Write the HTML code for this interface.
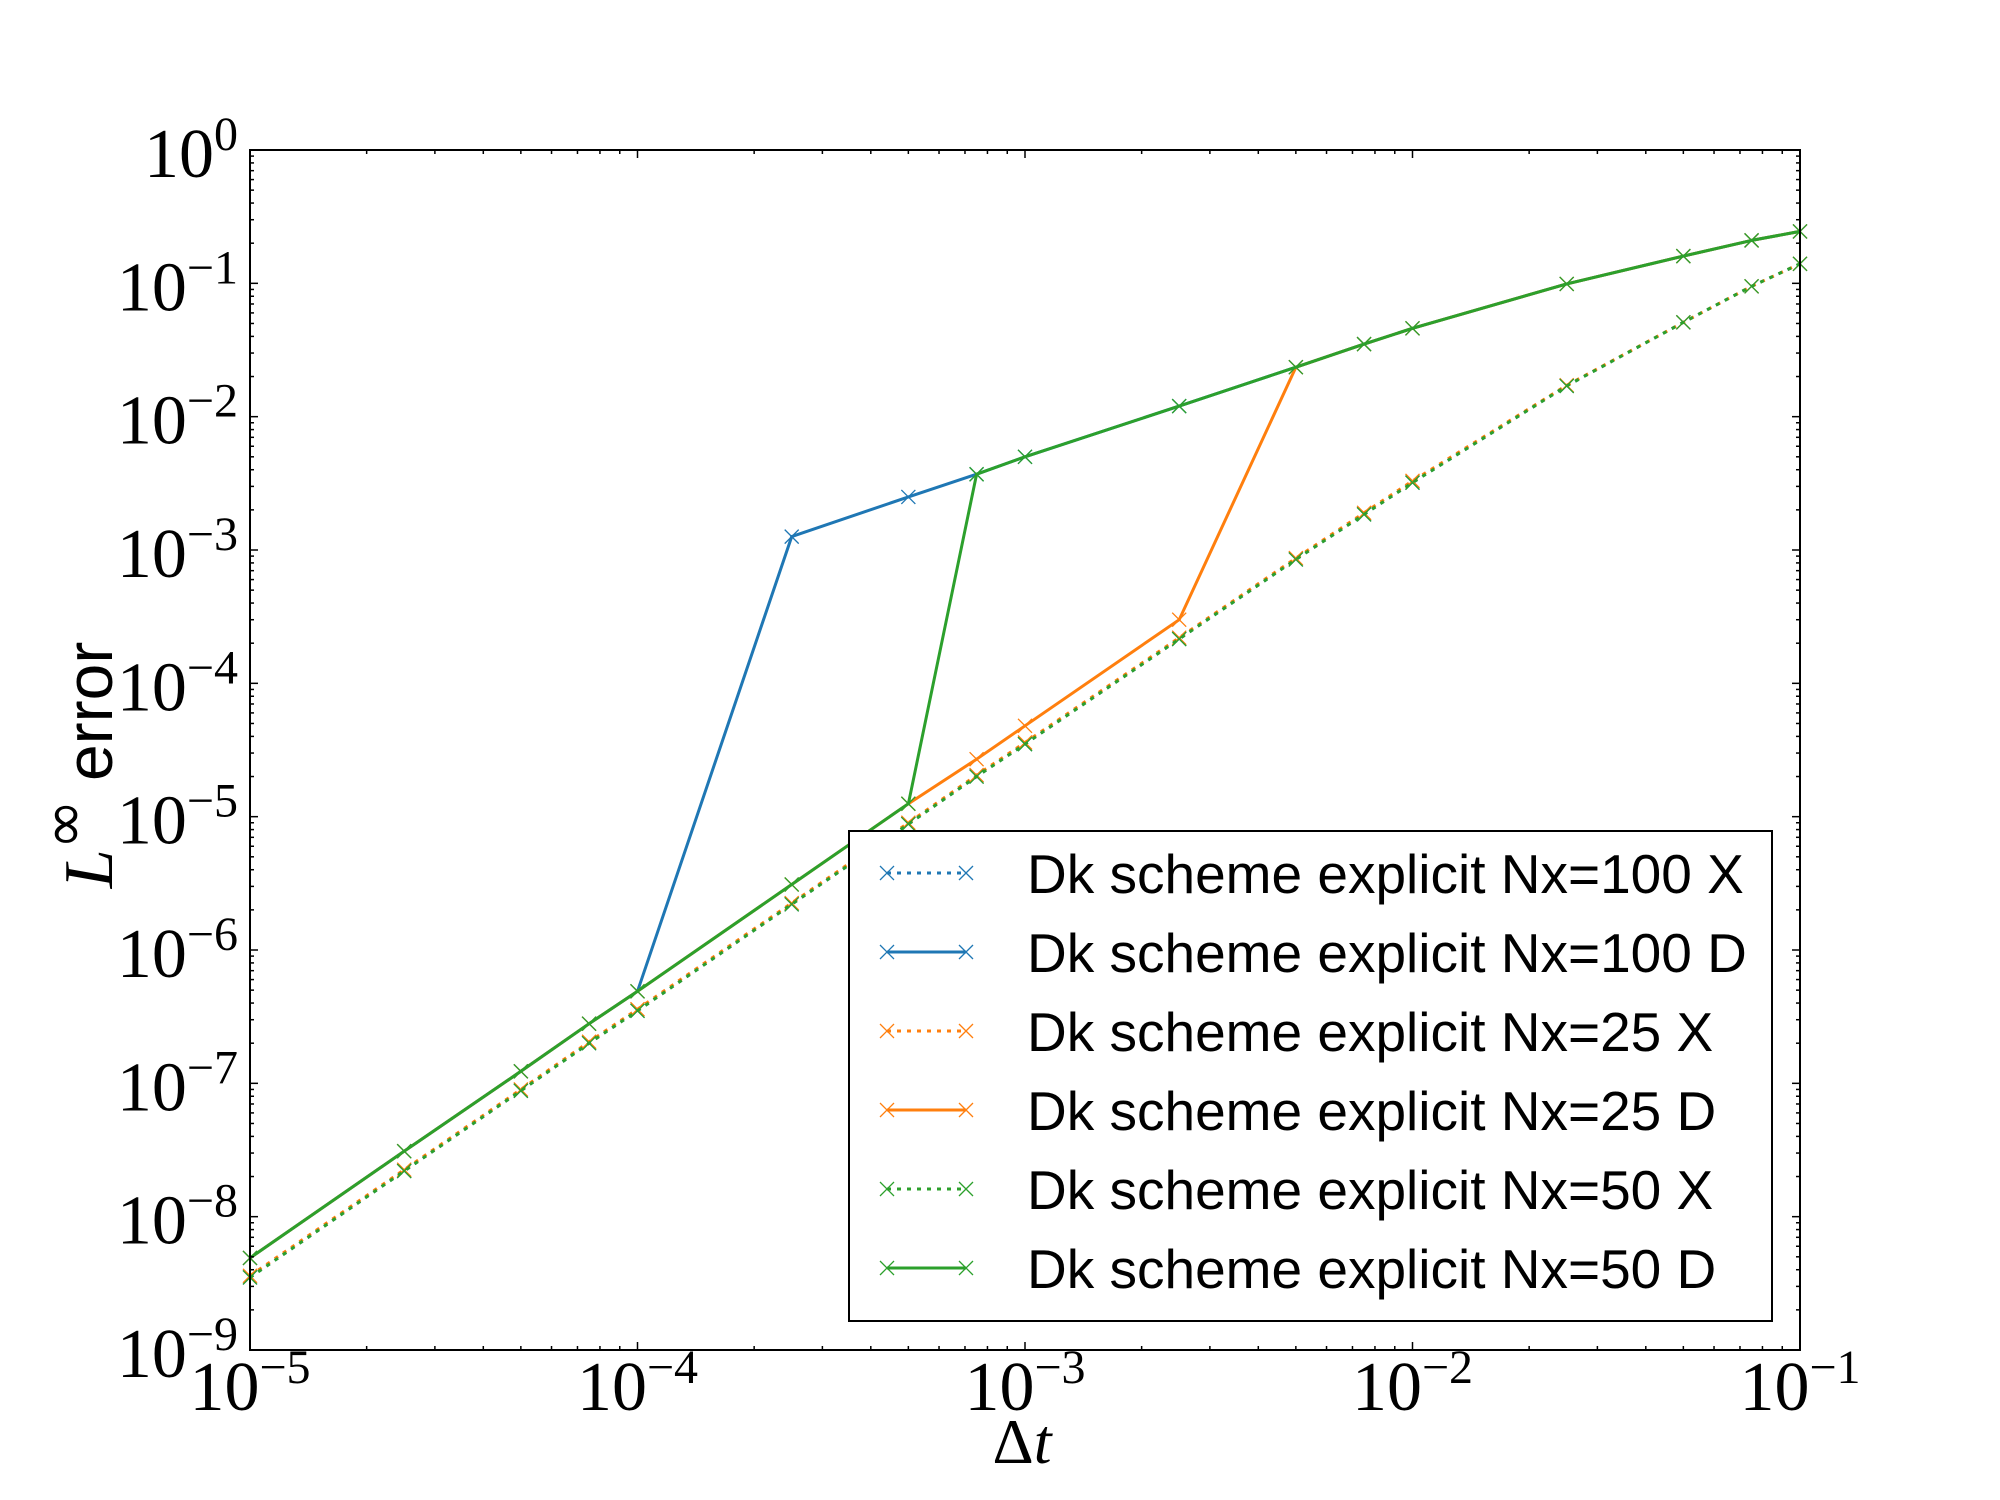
<!DOCTYPE html>
<html><head><meta charset="utf-8"><style>
html,body{margin:0;padding:0;background:#fff;}
svg{display:block;}
</style></head><body>
<svg id="chart" width="2000" height="1500" viewBox="0 0 2000 1500" xmlns="http://www.w3.org/2000/svg">
<rect width="2000" height="1500" fill="#fff"/>
<g id="series"></g>
<g id="axes"></g>
<g id="legend"></g>
</svg>
<script>
const dtValues = [1e-5,2.5e-5,5e-5,7.5e-5,1e-4,2.5e-4,5e-4,7.5e-4,1e-3,2.5e-3,5e-3,7.5e-3,1e-2,2.5e-2,5e-2,7.5e-2,1e-1];
const x100 = [3.5e-9,2.2e-8,8.8e-8,2.0e-7,3.5e-7,2.2e-6,8.8e-6,2.0e-5,3.5e-5,2.15e-4,8.5e-4,1.85e-3,3.2e-3,1.7e-2,5.1e-2,9.5e-2,1.4e-1];
const d100 = [4.9e-9,3.1e-8,1.23e-7,2.8e-7,4.9e-7,1.26e-3,2.5e-3,3.7e-3,5.0e-3,1.2e-2,2.35e-2,3.5e-2,4.6e-2,9.9e-2,1.6e-1,2.1e-1,2.45e-1];
const x25 = [3.6e-9,2.25e-8,9.0e-8,2.05e-7,3.6e-7,2.25e-6,9.0e-6,2.05e-5,3.6e-5,2.2e-4,8.7e-4,1.9e-3,3.3e-3,1.72e-2,5.1e-2,9.5e-2,1.4e-1];
const d25 = [4.9e-9,3.1e-8,1.23e-7,2.8e-7,4.9e-7,3.1e-6,1.25e-5,2.7e-5,4.8e-5,3.0e-4,2.35e-2,3.5e-2,4.6e-2,9.9e-2,1.6e-1,2.1e-1,2.45e-1];
const x50 = [3.5e-9,2.2e-8,8.8e-8,2.0e-7,3.5e-7,2.2e-6,8.8e-6,2.0e-5,3.5e-5,2.15e-4,8.5e-4,1.85e-3,3.2e-3,1.7e-2,5.1e-2,9.5e-2,1.4e-1];
const d50 = [4.9e-9,3.1e-8,1.23e-7,2.8e-7,4.9e-7,3.1e-6,1.25e-5,3.7e-3,5.0e-3,1.2e-2,2.35e-2,3.5e-2,4.6e-2,9.9e-2,1.6e-1,2.1e-1,2.45e-1];
const seriesLabels = ["Dk scheme explicit Nx=100 X","Dk scheme explicit Nx=100 D","Dk scheme explicit Nx=25 X","Dk scheme explicit Nx=25 D","Dk scheme explicit Nx=50 X","Dk scheme explicit Nx=50 D"];
const xTickExps = [-5,-4,-3,-2,-1];
const yTickExps = [-9,-8,-7,-6,-5,-4,-3,-2,-1,0];

const NS="http://www.w3.org/2000/svg";
const L=250,R=1800,T=150,B=1350;
const xMin=-5,xMax=-1,yMin=-9,yMax=0;
function xs(v){return L+(Math.log10(v)-xMin)/(xMax-xMin)*(R-L);}
function ys(v){return B-(Math.log10(v)-yMin)/(yMax-yMin)*(B-T);}
function mk(tag,attrs,parent){const e=document.createElementNS(NS,tag);for(const k in attrs)e.setAttribute(k,attrs[k]);parent.appendChild(e);return e;}

const blue="#1f77b4",orange="#ff7f0e",green="#2ca02c";
const seriesDefs=[[x100,blue,true],[d100,blue,false],[x25,orange,true],[d25,orange,false],[x50,green,true],[d50,green,false]];
const sg=document.getElementById('series');
function marker(g,x,y,c,name){
  const m=mk('path',{d:`M${x-7},${y-7}L${x+7},${y+7}M${x-7},${y+7}L${x+7},${y-7}`,stroke:c,'stroke-width':1.3,fill:'none'},g);
  
  
}
seriesDefs.forEach((s,i)=>{
  const g=mk('g',{},sg);
  
  
  const pts=s[0].map((v,j)=>xs(dtValues[j]).toFixed(1)+','+ys(v).toFixed(1)).join(' ');
  const pl=mk('polyline',{points:pts,fill:'none',stroke:s[1],'stroke-width':3,'stroke-dasharray':s[2]?'4 6':'none','stroke-linejoin':'round'},g);
  
  
  s[0].forEach((v,j)=>marker(g,xs(dtValues[j]),ys(v),s[1],'data-point'));
});

// axes
const ag=document.getElementById('axes');
const frame=mk('rect',{x:L,y:T,width:R-L,height:B-T,fill:'none',stroke:'#000','stroke-width':2},ag);


function tick(x1,y1,x2,y2){const t=mk('line',{x1,y1,x2,y2,stroke:'#000','stroke-width':1.5},ag);}
for(let e=xMin;e<=xMax;e++){
  for(let m=1;m<10;m++){
    if(e===xMax&&m>1)break;
    const x=xs(m*Math.pow(10,e));const len=m===1?8:4;
    tick(x,B,x,B-len);tick(x,T,x,T+len);
  }
}
for(let e=yMin;e<=yMax;e++){
  for(let m=1;m<10;m++){
    if(e===yMax&&m>1)break;
    const y=ys(m*Math.pow(10,e));const len=m===1?8:4;
    tick(L,y,L+len,y);tick(R,y,R-len,y);
  }
}
const serif='"Liberation Serif", serif';
xTickExps.forEach(e=>{
  const t=mk('text',{x:xs(Math.pow(10,e)),y:1410,'text-anchor':'middle','font-family':serif,'font-size':70},ag);
  
  
  t.innerHTML='10<tspan dy="-27" font-size="48">\u2212'+Math.abs(e)+'</tspan>';
});
yTickExps.forEach(e=>{
  const t=mk('text',{x:238,y:ys(Math.pow(10,e))+27,'text-anchor':'end','font-family':serif,'font-size':70},ag);
  
  
  t.innerHTML='10<tspan dy="-27" font-size="48">'+(e<0?'\u2212'+Math.abs(e):'0')+'</tspan>';
});
const xl=mk('text',{x:1022,y:1463,'text-anchor':'middle','font-family':serif,'font-size':64},ag);


xl.innerHTML='\u0394<tspan font-style="italic">t</tspan>';
const yl=mk('text',{x:0,y:0,'text-anchor':'middle','font-family':'"Liberation Sans", sans-serif','font-size':66,transform:'translate(112,765) rotate(-90)'},ag);


yl.innerHTML='<tspan font-family="Liberation Serif, serif" font-style="italic" font-size="70">L</tspan><tspan font-family="DejaVu Sans, sans-serif" font-size="60" dy="-28">\u221E</tspan><tspan dy="28"> error</tspan>';

// legend
const lg=document.getElementById('legend');


mk('rect',{x:849,y:831,width:923,height:490,fill:'#fff',stroke:'#000','stroke-width':2},lg);
seriesDefs.forEach((s,i)=>{
  const y=873+i*79;
  const g=mk('g',{},lg);
  
  
  mk('line',{x1:887,y1:y,x2:966,y2:y,stroke:s[1],'stroke-width':3,'stroke-dasharray':s[2]?'4 6':'none'},g);
  marker(g,887,y,s[1],'legend-marker');
  marker(g,966,y,s[1],'legend-marker');
  const t=mk('text',{x:1027,y:y+20,'font-family':'"Liberation Sans", sans-serif','font-size':55,fill:'#000'},g);
  
  
  t.textContent=seriesLabels[i];
});
</script>
</body></html>
